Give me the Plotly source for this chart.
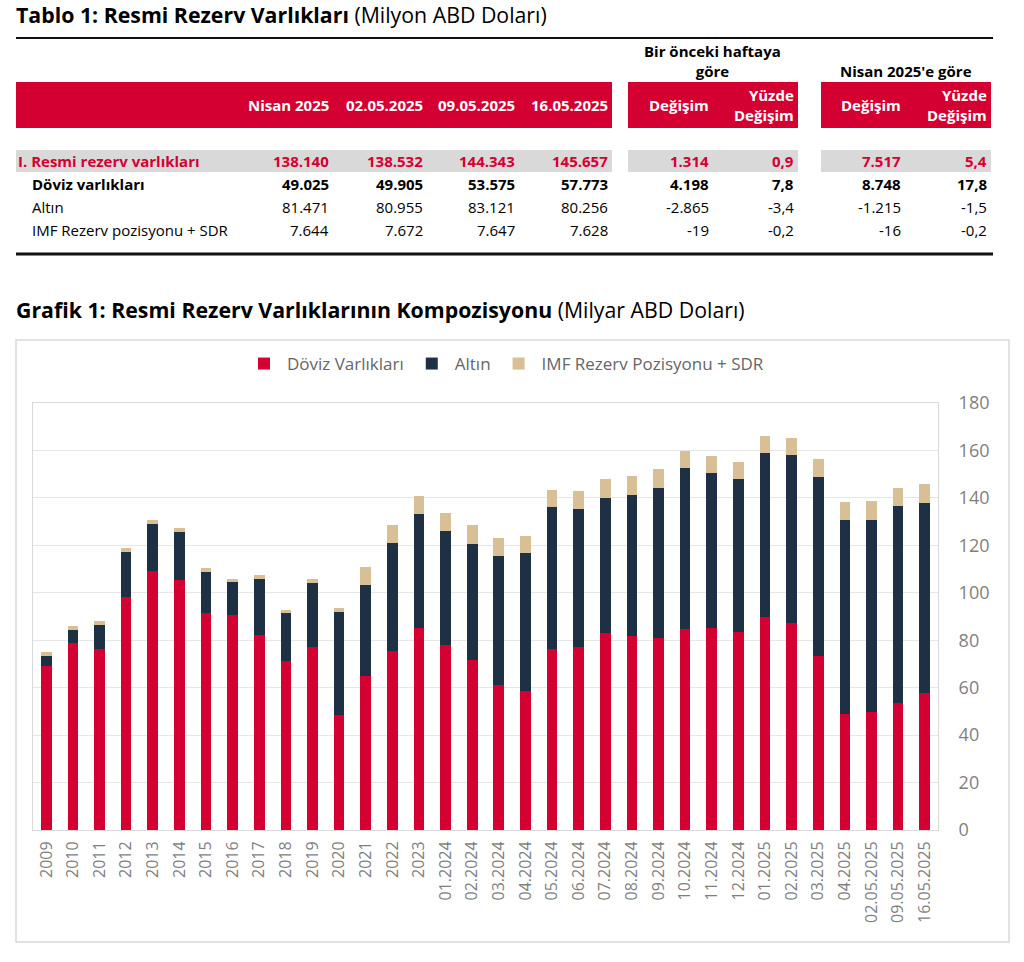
import plotly.graph_objects as go

# ---------------- DATA ----------------
categories = ["2009", "2010", "2011", "2012", "2013", "2014", "2015", "2016", "2017", "2018",
              "2019", "2020", "2021", "2022", "2023",
              "01.2024", "02.2024", "03.2024", "04.2024", "05.2024", "06.2024", "07.2024",
              "08.2024", "09.2024", "10.2024", "11.2024", "12.2024",
              "01.2025", "02.2025", "03.2025", "04.2025",
              "02.05.2025", "09.05.2025", "16.05.2025"]
doviz = [69.0, 78.8, 76.5, 98.3, 109.1, 105.4, 91.3, 90.6, 82.4, 71.2,
         77.0, 48.5, 64.9, 75.3, 85.0,
         77.9, 71.6, 61.3, 58.5, 76.3, 77.1, 83.1,
         81.6, 80.8, 84.8, 85.2, 83.6,
         89.9, 87.3, 73.2, 49.025,
         49.905, 53.575, 57.773]
altin = [4.2, 5.6, 10.0, 19.0, 19.9, 20.2, 17.6, 14.0, 23.6, 20.1,
         27.0, 43.5, 38.4, 45.7, 48.0,
         48.1, 49.1, 54.1, 58.1, 59.7, 58.3, 57.0,
         59.7, 63.3, 67.6, 65.2, 64.2,
         68.9, 70.8, 75.8, 81.471,
         80.955, 83.121, 80.256]
imf = [1.7, 1.4, 1.8, 1.7, 1.8, 1.6, 1.4, 1.4, 1.7, 1.5,
       1.7, 1.6, 7.7, 7.4, 7.8,
       7.7, 7.7, 7.7, 7.3, 7.4, 7.3, 7.9,
       8.0, 7.9, 7.4, 7.3, 7.3,
       7.3, 7.2, 7.3, 7.644,
       7.672, 7.647, 7.628]
series_names = ["Döviz Varlıkları", "Altın", "IMF Rezerv Pozisyonu + SDR"]
y_ticks = [0, 20, 40, 60, 80, 100, 120, 140, 160, 180]

# Table data
table_title_bold = "Tablo 1: Resmi Rezerv Varlıkları"
table_title_rest = " (Milyon ABD Doları)"
chart_title_bold = "Grafik 1: Resmi Rezerv Varlıklarının Kompozisyonu"
chart_title_rest = " (Milyar ABD Doları)"
group_headers = ["Bir önceki haftaya<br>göre", "Nisan 2025'e göre"]
col_headers = ["Nisan 2025", "02.05.2025", "09.05.2025", "16.05.2025",
               "Değişim", "Yüzde<br>Değişim", "Değişim", "Yüzde<br>Değişim"]
row_labels = ["I. Resmi rezerv varlıkları", "Döviz varlıkları", "Altın", "IMF Rezerv pozisyonu + SDR"]
row_nisan = ["138.140", "49.025", "81.471", "7.644"]
row_0205 = ["138.532", "49.905", "80.955", "7.672"]
row_0905 = ["144.343", "53.575", "83.121", "7.647"]
row_1605 = ["145.657", "57.773", "80.256", "7.628"]
row_hafta_deg = ["1.314", "4.198", "-2.865", "-19"]
row_hafta_pct = ["0,9", "7,8", "-3,4", "-0,2"]
row_nisan_deg = ["7.517", "8.748", "-1.215", "-16"]
row_nisan_pct = ["5,4", "17,8", "-1,5", "-0,2"]

# ---------------- STYLE ----------------
W, H = 1024, 962
RED = "#D50032"
NAVY = "#1E3044"
TAN = "#D8BF96"
GREY_ROW = "#D9D9D9"
FONT = "Open Sans"
TSIZE = 15


def px(x):
    return x / W


def py(y):
    return 1 - y / H


fig = go.Figure()
colors = [RED, NAVY, TAN]
for name, vals, c in zip(series_names, [doviz, altin, imf], colors):
    fig.add_trace(go.Bar(x=categories, y=vals, name=name, marker_color=c,
                         marker_line_width=0))

shapes = []
annotations = []

# Titles
annotations.append(dict(x=px(14), y=py(14), xref="paper", yref="paper", xanchor="left", yanchor="middle",
                        text=f"<b>{table_title_bold}</b>{table_title_rest}", showarrow=False,
                        font=dict(family=FONT, size=21.3, color="#000")))
annotations.append(dict(x=px(14), y=py(309), xref="paper", yref="paper", xanchor="left", yanchor="middle",
                        text=f"<b>{chart_title_bold}</b>{chart_title_rest}", showarrow=False,
                        font=dict(family=FONT, size=21.3, color="#000")))

# Table lines
shapes.append(dict(type="line", xref="paper", yref="paper", x0=px(16), x1=px(993), y0=py(38), y1=py(38),
                   line=dict(color="#111", width=2)))
shapes.append(dict(type="line", xref="paper", yref="paper", x0=px(16), x1=px(993), y0=py(254), y1=py(254),
                   line=dict(color="#111", width=3)))

# Table bands: (x0, x1)
bands = [(16, 612), (628, 798), (821, 991)]
for x0, x1 in bands:
    shapes.append(dict(type="rect", xref="paper", yref="paper", x0=px(x0), x1=px(x1), y0=py(82), y1=py(128),
                       fillcolor=RED, line_width=0, layer="below"))
    shapes.append(dict(type="rect", xref="paper", yref="paper", x0=px(x0), x1=px(x1), y0=py(150), y1=py(172),
                       fillcolor=GREY_ROW, line_width=0, layer="below"))

# Group headers
for txt, cx in zip(group_headers, [712, 906]):
    annotations.append(dict(x=px(cx), y=py(83), xref="paper", yref="paper", xanchor="center", yanchor="bottom",
                            text=f"<b>{txt}</b>", showarrow=False, align="center",
                            font=dict(family=FONT, size=TSIZE, color="#000")))

# Column headers
col_right = [331, 425, 517, 610, 711, 796, 903, 989]
for txt, xr in zip(col_headers, col_right):
    annotations.append(dict(x=px(xr), y=py(105), xref="paper", yref="paper", xanchor="right", yanchor="middle",
                            text=f"<b>{txt}</b>", showarrow=False, align="right",
                            font=dict(family=FONT, size=TSIZE, color="#fff")))

# Rows
row_y = [161, 184, 207, 230]
columns = [row_nisan, row_0205, row_0905, row_1605, row_hafta_deg, row_hafta_pct, row_nisan_deg, row_nisan_pct]
for i, (lab, yy) in enumerate(zip(row_labels, row_y)):
    if i == 0:
        color, bold, lx = RED, True, 16
    elif i == 1:
        color, bold, lx = "#000", True, 30
    else:
        color, bold, lx = "#000", False, 30
    t = f"<b>{lab}</b>" if bold else lab
    annotations.append(dict(x=px(lx), y=py(yy), xref="paper", yref="paper", xanchor="left", yanchor="middle",
                            text=t, showarrow=False, font=dict(family=FONT, size=TSIZE, color=color)))
    for col, xr in zip(columns, col_right):
        v = col[i]
        t = f"<b>{v}</b>" if bold else v
        annotations.append(dict(x=px(xr), y=py(yy), xref="paper", yref="paper", xanchor="right",
                                yanchor="middle", text=t, showarrow=False,
                                font=dict(family=FONT, size=TSIZE, color=color)))

# Chart outer box
shapes.append(dict(type="rect", xref="paper", yref="paper", x0=px(16), x1=px(1009), y0=py(340), y1=py(942),
                   line=dict(color="#D9D9D9", width=1.5), fillcolor="rgba(0,0,0,0)"))

fig.update_layout(
    width=W, height=H,
    margin=dict(l=0, r=0, t=0, b=0, pad=0, autoexpand=False),
    paper_bgcolor="white", plot_bgcolor="white",
    barmode="stack", bargap=0.6,
    font=dict(family=FONT, color="#7F7F7F"),
    shapes=shapes, annotations=annotations,
    legend=dict(orientation="h", x=px(505), xanchor="center", y=py(364), yanchor="middle",
                font=dict(family=FONT, size=17, color="#666"), traceorder="normal",
                itemclick=False, itemwidth=36),
    xaxis=dict(type="category", domain=[px(33), px(938)], tickangle=-90, automargin=False,
               tickfont=dict(family=FONT, size=16, color="#7F7F7F"),
               showline=True, linecolor="#D9D9D9", linewidth=1, mirror=True,
               showgrid=False, ticks="", ticklabelstandoff=4),
    yaxis=dict(domain=[py(830), py(403)], range=[0, 180], tickvals=y_ticks, side="right", automargin=False,
               tickfont=dict(family=FONT, size=18, color="#7F7F7F"),
               showgrid=True, gridcolor="#E6E6E6", gridwidth=1,
               showline=True, linecolor="#D9D9D9", linewidth=1, mirror=True,
               ticks="", ticklabelstandoff=16, zeroline=False),
)

fig.write_html("out.html", config={"displayModeBar": False},
               post_script="document.body.style.margin='0';document.body.style.overflow='hidden';")
